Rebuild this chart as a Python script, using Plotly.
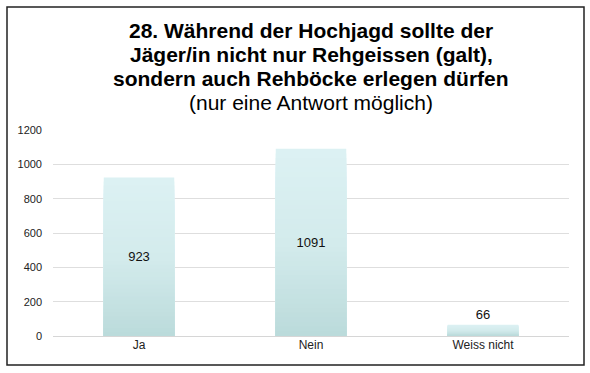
import plotly.graph_objects as go

categories = ["Ja", "Nein", "Weiss nicht"]
values = [923, 1091, 66]
label_positions = ["inside", "inside", "outside"]
y_ticks = [0, 200, 400, 600, 800, 1000, 1200]
title_lines = [
    "<b>28. Während der Hochjagd sollte der</b>",
    "<b>Jäger/in nicht nur Rehgeissen (galt),</b>",
    "<b>sondern auch Rehböcke erlegen dürfen</b>",
    "(nur eine Antwort möglich)",
]

W, H = 590, 373
L, R, T, B = 53, 21, 130, 37
PW, PH = W - L - R, H - T - B


def px_x(p):
    return (p - L) / PW


def px_y(p):
    return (H - B - p) / PH


def lerp(c1, c2, t):
    return "rgb(%d,%d,%d)" % tuple(round(a + (b - a) * t) for a, b in zip(c1, c2))


top_c = (220, 241, 243)
mid_c = (211, 235, 236)
bot_c = (186, 218, 218)


def grad_color(frac):
    if frac >= 0.5:
        return lerp(mid_c, top_c, (frac - 0.5) / 0.5)
    return lerp(bot_c, mid_c, frac / 0.5)


fig = go.Figure()
N = 40
for k in range(N):
    frac = 1 - k / N
    fig.add_trace(go.Bar(
        x=categories,
        y=[v * frac for v in values],
        marker=dict(color=grad_color(frac), line=dict(width=0)),
        hoverinfo="skip",
        showlegend=False,
    ))

fig.add_trace(go.Bar(
    x=categories,
    y=values,
    text=[str(v) for v in values],
    textposition=label_positions,
    insidetextanchor="middle",
    textangle=0,
    constraintext="none",
    textfont=dict(family="Liberation Sans, Arial", size=13, color="#111"),
    marker=dict(color="rgba(0,0,0,0)", line=dict(width=0)),
    showlegend=False,
    cliponaxis=False,
))

fig.update_layout(
    width=W,
    height=H,
    margin=dict(l=L, r=R, t=T, b=B),
    barmode="overlay",
    bargap=0.59,
    paper_bgcolor="white",
    plot_bgcolor="white",
    font=dict(family="Liberation Sans, Arial", color="#222"),
    xaxis=dict(
        showgrid=False,
        showline=False,
        ticks="",
        tickfont=dict(size=12, color="#222"),
        fixedrange=True,
    ),
    yaxis=dict(
        range=[0, 1200],
        tickvals=y_ticks,
        showgrid=True,
        gridcolor="#dedede",
        gridwidth=1,
        zeroline=True,
        zerolinecolor="#d6d6d6",
        zerolinewidth=1,
        showline=False,
        ticks="",
        ticklabelstandoff=10,
        tickfont=dict(size=11, color="#222"),
        fixedrange=True,
    ),
)

fig.add_shape(
    type="rect", xref="paper", yref="paper",
    x0=px_x(7), x1=px_x(584), y0=px_y(365), y1=px_y(7),
    line=dict(color="#222", width=1.5), fillcolor="rgba(0,0,0,0)", layer="below",
)

centers = [30.5, 54.5, 78.5, 102]
for line, cy in zip(title_lines, centers):
    fig.add_annotation(
        text=line, xref="paper", yref="paper",
        x=px_x(311), y=px_y(cy), xanchor="center", yanchor="middle",
        showarrow=False,
        font=dict(family="Liberation Sans, Arial", size=21, color="#000"),
    )

fig.write_html(
    "out.html",
    post_script="document.body.style.margin='0';",
    config={"displayModeBar": False},
)
